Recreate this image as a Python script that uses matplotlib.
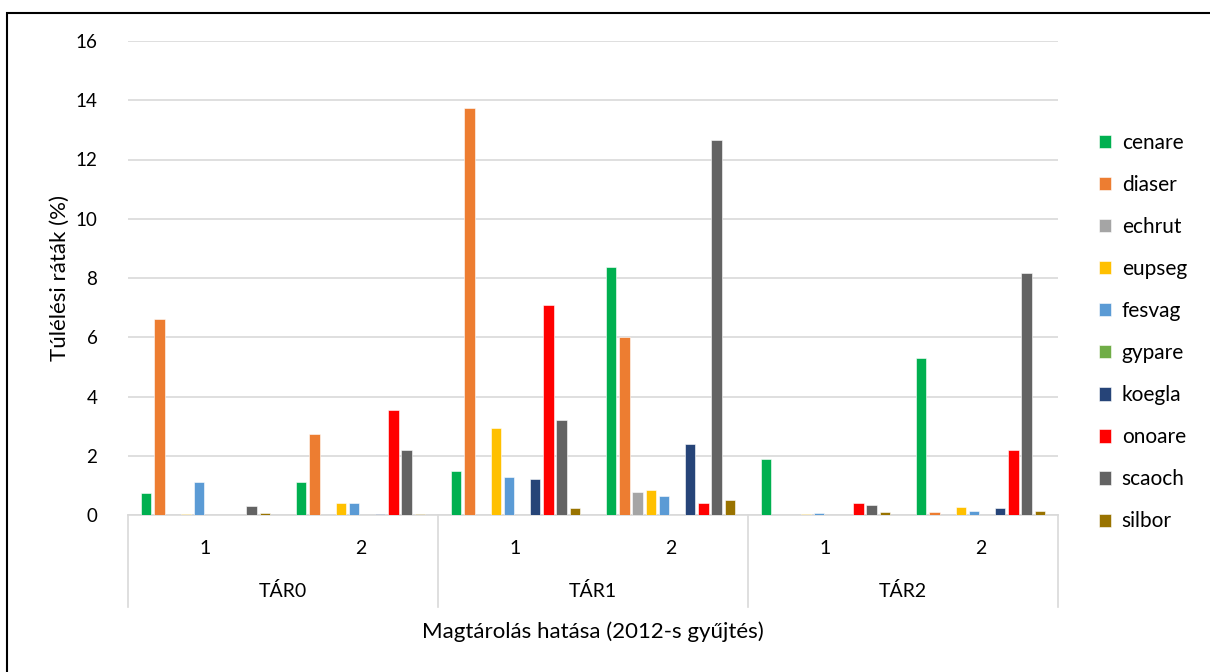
import numpy as np
import matplotlib.pyplot as plt
from matplotlib.patches import Rectangle

plt.rcParams['font.family'] = ['Lato', 'DejaVu Sans']

groups = ["TÁR0", "TÁR1", "TÁR2"]
subgroups = ["1", "2"]
species = ["cenare", "diaser", "echrut", "eupseg", "fesvag",
           "gypare", "koegla", "onoare", "scaoch", "silbor"]

# order: TÁR0-1, TÁR0-2, TÁR1-1, TÁR1-2, TÁR2-1, TÁR2-2
cenare = [0.73, 1.12, 1.50, 8.37, 1.90, 5.30]
diaser = [6.60, 2.72, 13.75, 6.00, 0.0, 0.10]
echrut = [0.0, 0.0, 0.0, 0.79, 0.0, 0.0]
eupseg = [0.05, 0.40, 2.95, 0.85, 0.03, 0.28]
fesvag = [1.13, 0.40, 1.27, 0.64, 0.07, 0.15]
gypare = [0.0, 0.0, 0.0, 0.0, 0.0, 0.0]
koegla = [0.0, 0.03, 1.22, 2.40, 0.0, 0.25]
onoare = [0.0, 3.55, 7.10, 0.42, 0.42, 2.20]
scaoch = [0.30, 2.20, 3.20, 12.65, 0.33, 8.17]
silbor = [0.08, 0.03, 0.23, 0.50, 0.10, 0.12]

values = [cenare, diaser, echrut, eupseg, fesvag,
          gypare, koegla, onoare, scaoch, silbor]
colors = ["#00B050", "#ED7D31", "#A5A5A5", "#FFC000", "#5B9BD5",
          "#70AD47", "#264478", "#FF0000", "#636363", "#997300"]

fig = plt.figure(figsize=(12.1, 6.72), dpi=100)
ax = fig.add_axes([128 / 1210, 1 - 515 / 672, 930 / 1210, 474 / 672])

x = np.arange(len(groups) * len(subgroups))
step = 0.085
width = 0.066
n = len(species)
for i, (name, vals, col) in enumerate(zip(species, values, colors)):
    ax.bar(x + (i - (n - 1) / 2) * step, vals, width, color=col,
           edgecolor="white", linewidth=0.4, label=name, zorder=3)

ax.set_xlim(-0.5, len(x) - 0.5)
ax.set_ylim(0, 16)
ax.set_yticks(np.arange(0, 17, 2))
ax.tick_params(axis="y", length=0, labelsize=13.5, pad=22)
ax.set_xticks([])
ax.grid(axis="y", color="#D9D9D9", linewidth=1.2, zorder=0)
for s in ["top", "right", "left"]:
    ax.spines[s].set_visible(False)
ax.spines["bottom"].set_color("#D9D9D9")
ax.spines["bottom"].set_linewidth(1.2)

# multi-level category axis
trans = ax.get_xaxis_transform()
line_bottom = -92 / 474
for b in np.arange(-0.5, len(x), 2):
    ax.plot([b, b], [0, line_bottom], transform=trans, color="#D9D9D9",
            linewidth=1.2, clip_on=False)
for i, xi in enumerate(x):
    ax.text(xi, -34 / 474, subgroups[i % 2], transform=trans,
            ha="center", va="center", fontsize=14)
for g, name in enumerate(groups):
    ax.text(2 * g + 0.5, -76 / 474, name, transform=trans,
            ha="center", va="center", fontsize=14)

ax.set_ylabel("Túlélési ráták (%)", fontsize=16)
ax.yaxis.set_label_coords(-0.062, 0.5)
fig.text(593 / 1210, 1 - 632 / 672, "Magtárolás hatása (2012-s gyűjtés)",
         ha="center", va="center", fontsize=16)

ax.legend(loc="upper left", bbox_to_anchor=(1080 / 1210, 1 - 114 / 672),
          bbox_transform=fig.transFigure, frameon=False, fontsize=15,
          handlelength=0.6, handleheight=0.6, handletextpad=0.5,
          labelspacing=1.06)

fig.patches.append(Rectangle((7 / 1210, -0.1), 1.2, 1.1 - 13 / 672,
                             transform=fig.transFigure, fill=False,
                             edgecolor="black", linewidth=1.5))

fig.savefig("out.png", dpi=100)
